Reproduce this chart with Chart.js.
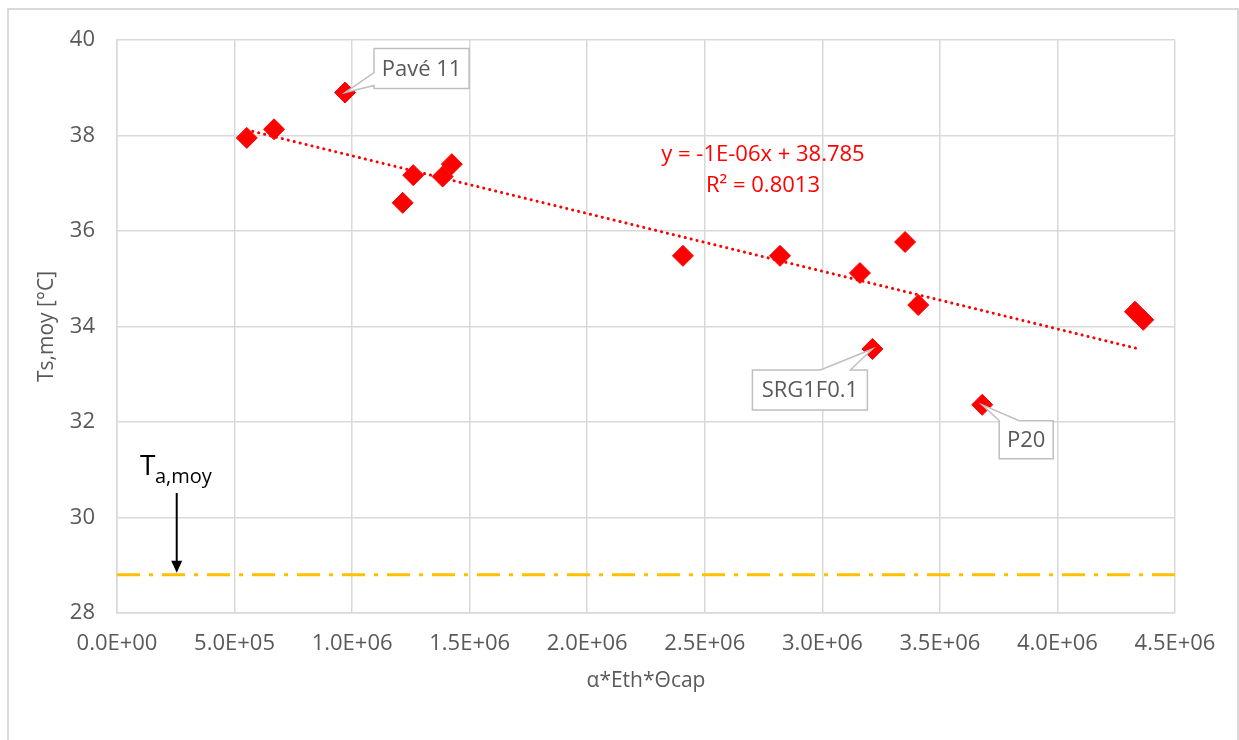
<!DOCTYPE html>
<html>
<head>
<meta charset="utf-8">
<script src="https://cdn.jsdelivr.net/npm/chart.js@4.4.1/dist/chart.umd.min.js"></script>
<style>
  html, body { margin: 0; padding: 0; background: #fff; overflow: hidden; }
  #wrap { position: relative; width: 1239px; height: 740px; }
  #frame { position: absolute; left: 7px; top: 8px; width: 1232px; height: 800px; border: 2px solid #d9d9d9; box-sizing: border-box; }
  canvas { position: absolute; left: 0; top: 0; }
</style>
</head>
<body>
<div id="wrap">
  <div id="frame"></div>
  <canvas id="chart" width="1239" height="740"></canvas>
</div>
<script>
// valeurs
const xValues = [0.552e6, 0.668e6, 0.970e6, 1.215e6, 1.260e6, 1.385e6, 1.424e6, 2.407e6, 2.820e6, 3.160e6, 3.213e6, 3.352e6, 3.408e6, 3.680e6, 4.330e6, 4.365e6];
const yValues = [37.95, 38.13, 38.90, 36.59, 37.17, 37.14, 37.40, 35.48, 35.48, 35.12, 33.53, 35.77, 34.45, 32.36, 34.31, 34.14];
const pointNames = ['', '', 'Pavé 11', '', '', '', '', '', '', '', 'SRG1F0.1', '', '', 'P20', '', ''];

// courbe de tendance linéaire (extrémités)
const trendX = [0.552e6, 4.355e6];
const trendY = [38.117, 33.52];
const trendText = ['y = -1E-06x + 38.785', 'R² = 0.8013'];

// température d'air moyenne
const taX = [0, 4.5e6];
const taY = [28.8, 28.8];
const taArrowX = 0.254e6;

const xTickValues = [0, 0.5e6, 1e6, 1.5e6, 2e6, 2.5e6, 3e6, 3.5e6, 4e6, 4.5e6];
const xTickLabels = ['0.0E+00', '5.0E+05', '1.0E+06', '1.5E+06', '2.0E+06', '2.5E+06', '3.0E+06', '3.5E+06', '4.0E+06', '4.5E+06'];
const yTickValues = [28, 30, 32, 34, 36, 38, 40];

const xTitle = 'α*Eth*Θcap';
const yTitle = 'Ts,moy [°C]';

const FONT = '"Open Sans", sans-serif';
const GREY = '#595959';
const GRID = '#d9d9d9';

// position des bulles d'étiquettes (décalages en pixels par rapport au point)
const callouts = {
  'Pavé 11': { box: [29, -44, 95, 40], attach: [[29, -20], [29, -7]], edge: 'left' },
  'SRG1F0.1': { box: [-120, 21, 115, 40], attach: [[-52, 21], [-22, 21]], edge: 'top' },
  'P20': { box: [17, 16, 54, 38], attach: [[17, 16], [37, 16]], edge: 'top' }
};

function drawCallout(ctx, px, py, name) {
  const c = callouts[name];
  const [bx, by, bw, bh] = c.box;
  const x0 = px + bx, y0 = py + by, x1 = x0 + bw, y1 = y0 + bh;
  const a1 = [px + c.attach[0][0], py + c.attach[0][1]];
  const a2 = [px + c.attach[1][0], py + c.attach[1][1]];
  ctx.save();
  ctx.beginPath();
  if (c.edge === 'top') {
    ctx.moveTo(x0, y0);
    ctx.lineTo(a1[0], a1[1]);
    ctx.lineTo(px, py);
    ctx.lineTo(a2[0], a2[1]);
    ctx.lineTo(x1, y0);
    ctx.lineTo(x1, y1);
    ctx.lineTo(x0, y1);
  } else {
    ctx.moveTo(x0, y0);
    ctx.lineTo(x1, y0);
    ctx.lineTo(x1, y1);
    ctx.lineTo(x0, y1);
    ctx.lineTo(a2[0], a2[1]);
    ctx.lineTo(px, py);
    ctx.lineTo(a1[0], a1[1]);
  }
  ctx.closePath();
  ctx.fillStyle = '#fff';
  ctx.fill();
  ctx.strokeStyle = '#bfbfbf';
  ctx.lineWidth = 1.5;
  ctx.stroke();
  ctx.fillStyle = GREY;
  ctx.font = '22px ' + FONT;
  ctx.textAlign = 'center';
  ctx.textBaseline = 'middle';
  ctx.fillText(name, (x0 + x1) / 2, (y0 + y1) / 2 + 1);
  ctx.restore();
}

const annotations = {
  id: 'annotations',
  afterDatasetsDraw(chart) {
    const ctx = chart.ctx;
    const xs = chart.scales.x, ys = chart.scales.y;
    const area = chart.chartArea;

    // étiquettes des points
    xValues.forEach((x, i) => {
      if (pointNames[i]) drawCallout(ctx, xs.getPixelForValue(x), ys.getPixelForValue(yValues[i]), pointNames[i]);
    });

    ctx.save();
    // équation de la tendance
    ctx.fillStyle = '#ff0000';
    ctx.font = '22px ' + FONT;
    ctx.textAlign = 'center';
    ctx.textBaseline = 'middle';
    ctx.fillText(trendText[0], 763, 155);
    ctx.fillText(trendText[1], 763, 186);

    // titres des axes
    ctx.fillStyle = GREY;
    ctx.font = '21px ' + FONT;
    ctx.fillText(xTitle, (area.left + area.right) / 2, 681);
    ctx.save();
    ctx.translate(47, (area.top + area.bottom) / 2);
    ctx.rotate(-Math.PI / 2);
    ctx.fillText(yTitle, 0, 0);
    ctx.restore();

    // flèche T a,moy
    const ax = xs.getPixelForValue(taArrowX);
    const tipY = ys.getPixelForValue(taY[0]) - 2;
    ctx.strokeStyle = '#000';
    ctx.fillStyle = '#000';
    ctx.lineWidth = 2;
    ctx.beginPath();
    ctx.moveTo(ax, 493);
    ctx.lineTo(ax, tipY - 10);
    ctx.stroke();
    ctx.beginPath();
    ctx.moveTo(ax - 5.5, tipY - 12);
    ctx.lineTo(ax + 5.5, tipY - 12);
    ctx.lineTo(ax, tipY);
    ctx.closePath();
    ctx.fill();

    ctx.textAlign = 'left';
    ctx.textBaseline = 'alphabetic';
    ctx.font = '28px ' + FONT;
    ctx.fillText('T', 140, 475);
    ctx.font = '20px ' + FONT;
    ctx.fillText('a,moy', 155, 483);
    ctx.restore();
  }
};

const ctx = document.getElementById('chart').getContext('2d');
new Chart(ctx, {
  type: 'scatter',
  data: {
    datasets: [
      {
        label: 'points',
        data: xValues.map((x, i) => ({ x: x, y: yValues[i] })),
        pointStyle: 'rectRot',
        pointRadius: 10.5,
        pointHoverRadius: 10.5,
        backgroundColor: '#ff0000',
        borderColor: '#ff0000',
        borderWidth: 1,
        order: 0
      },
      {
        label: 'tendance',
        type: 'line',
        data: trendX.map((x, i) => ({ x: x, y: trendY[i] })),
        borderColor: '#ff0000',
        borderWidth: 3,
        borderDash: [0.1, 6],
        borderCapStyle: 'round',
        pointRadius: 0,
        fill: false,
        order: 1
      },
      {
        label: 'Ta,moy',
        type: 'line',
        data: taX.map((x, i) => ({ x: x, y: taY[i] })),
        borderColor: '#ffc000',
        borderWidth: 3,
        borderDash: [23, 9, 4, 9],
        pointRadius: 0,
        fill: false,
        order: 2
      }
    ]
  },
  options: {
    responsive: false,
    animation: false,
    layout: { padding: { top: 40, right: 64, bottom: 0, left: 0 } },
    scales: {
      x: {
        type: 'linear',
        min: 0,
        max: 4.5e6,
        afterFit: s => { s.height = 127; },
        afterBuildTicks: s => { s.ticks = xTickValues.map(v => ({ value: v })); },
        grid: { color: GRID, lineWidth: 1.5, drawTicks: false },
        border: { color: GRID, width: 1.5 },
        ticks: {
          padding: 18,
          color: GREY,
          font: { family: FONT, size: 22 },
          maxRotation: 0,
          autoSkip: false,
          callback: (v, i) => xTickLabels[i]
        }
      },
      y: {
        min: 28,
        max: 40,
        afterFit: s => { s.width = 117; },
        afterBuildTicks: s => { s.ticks = yTickValues.map(v => ({ value: v })); },
        grid: { color: GRID, lineWidth: 1.5, drawTicks: false },
        border: { color: GRID, width: 1.5 },
        ticks: {
          padding: 22,
          color: GREY,
          font: { family: FONT, size: 22 },
          callback: v => String(v)
        }
      }
    },
    plugins: {
      legend: { display: false },
      tooltip: { enabled: false }
    }
  },
  plugins: [annotations]
});
</script>
</body>
</html>
